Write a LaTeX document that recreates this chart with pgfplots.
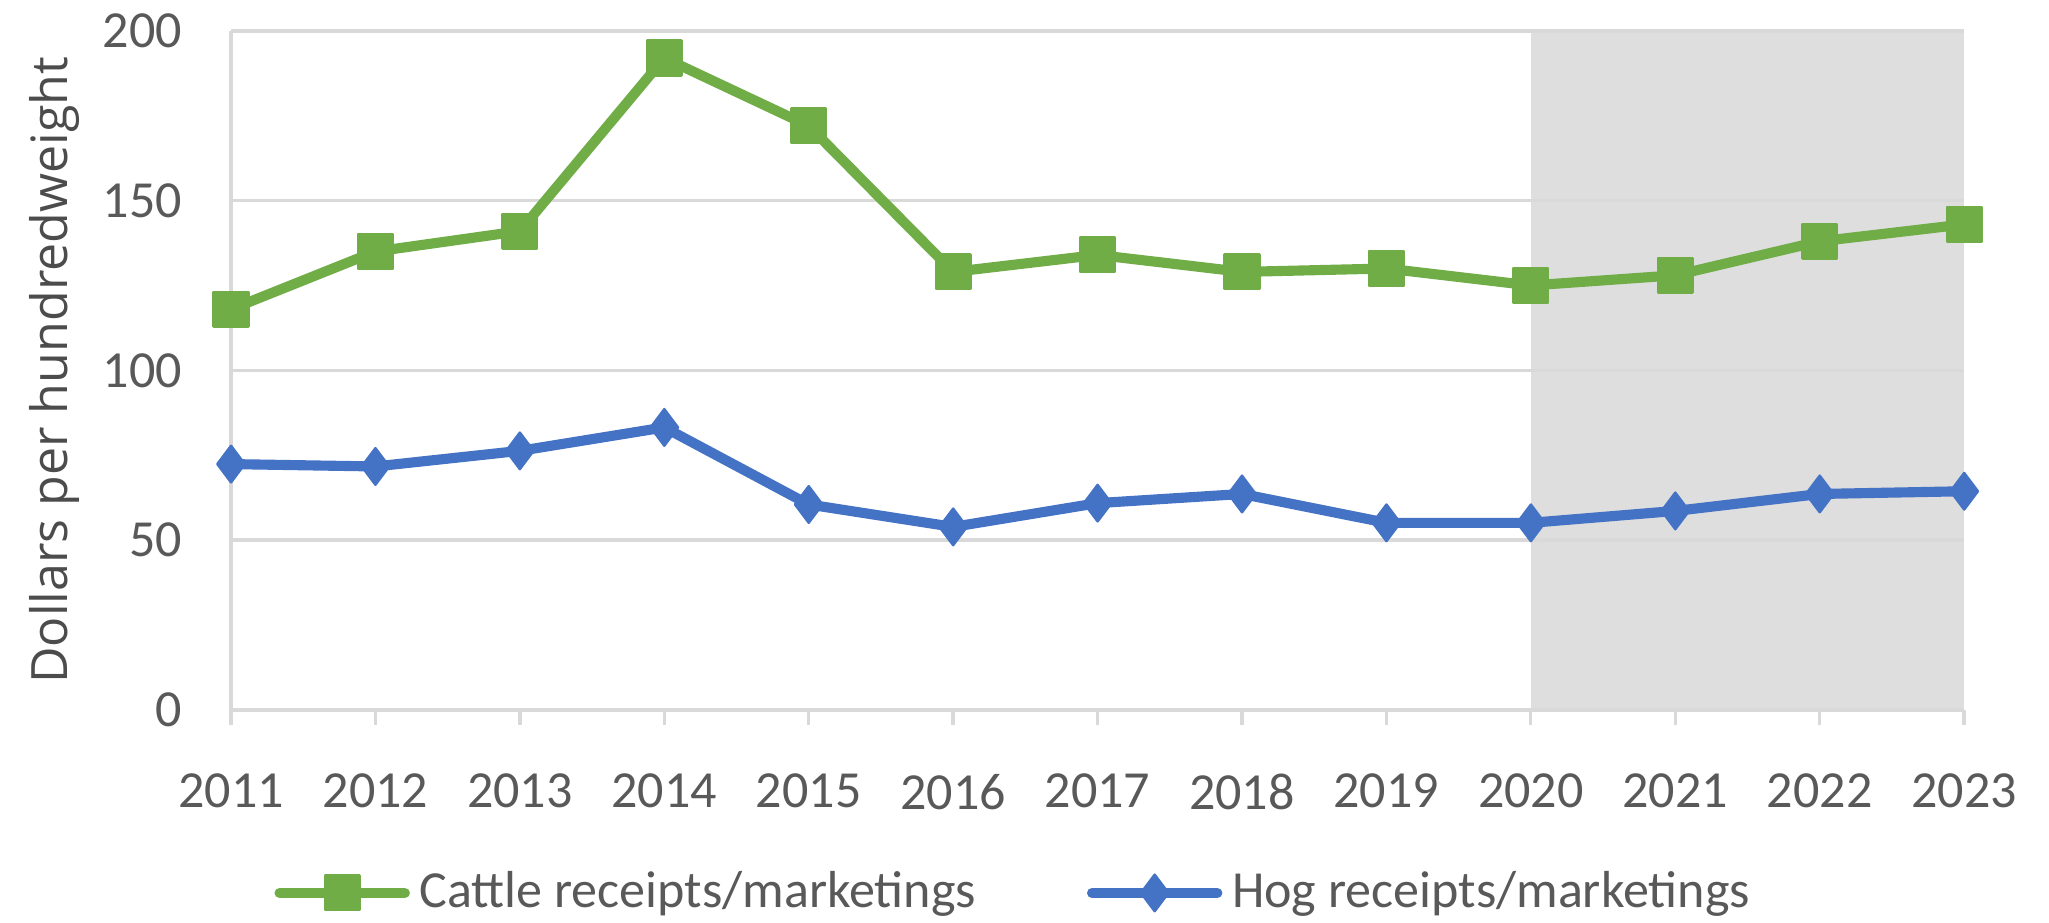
\documentclass[border=0pt]{standalone}
\usepackage{pgfplots}
\pgfplotsset{compat=1.18}
\usepackage{fontspec}
\setmainfont{Carlito}
\newfontfamily\labfont{Open Sans}
\definecolor{cattle}{HTML}{70AD47}
\definecolor{hog}{HTML}{4472C4}
\definecolor{gridgray}{HTML}{D9D9D9}
\definecolor{shade}{HTML}{DEDEDE}
\definecolor{txt}{HTML}{595959}

\begin{document}
\begin{tikzpicture}
\fontsize{10.8}{13}\selectfont
\begin{axis}[
    at={(0,0)}, anchor=south west,
    scale only axis,
    width=359.6pt, height=140.9pt,
    set layers,
    clip=false,
    xmin=2011, xmax=2023,
    ymin=0, ymax=200,
    xtick={2011,...,2023},
    ytick={0,50,...,200},
    axis lines*=left,
    axis line style={draw=gridgray, line width=0.7pt},
    ymajorgrids,
    grid style={draw=gridgray, line width=0.7pt},
    xtick align=outside,
    major tick length=3.1pt,
    xtick style={draw=gridgray, line width=0.7pt},
    ytick style={draw=none},
    /pgf/number format/1000 sep={},
    /pgf/number format/assume math mode=true,
    ticklabel style={text=txt, font=\fontsize{10.8}{13}\selectfont},
    xticklabel style={anchor=north, inner sep=0pt, yshift=-10pt},
    yticklabel style={anchor=east, inner sep=0pt, xshift=-10pt},
    ylabel={Dollars per hundredweight},
    ylabel style={at={(axis description cs:-0.1016,0.5)}, anchor=center,
        text=txt!85!black, font=\labfont\fontsize{10.4}{12}\selectfont},
    legend style={at={(0.4535,-0.2695)}, anchor=center, draw=none,
        fill=none, legend columns=2, text=txt,
        font=\fontsize{10.8}{13}\selectfont,
        /tikz/every even column/.append style={column sep=21pt}},
    legend cell align=left,
    legend image code/.code={
        \draw[#1, mark repeat=2, mark phase=2]
            plot coordinates {(0pt,0pt) (13pt,0pt) (26pt,0pt)};
    },
]
% projection period shading
\addplot[on layer=axis background, fill=shade, draw=none, forget plot]
    coordinates {(2020,0) (2020,200) (2023,200) (2023,0)} -- cycle;

\addplot[cattle, line width=2.1pt, line join=round, line cap=round,
    mark=square*, mark size=3.6pt, mark options={solid, line width=0.5pt}]
coordinates {
(2011,118) (2012,135) (2013,141) (2014,192) (2015,172) (2016,129)
(2017,134) (2018,129) (2019,130) (2020,125) (2021,128) (2022,138)
(2023,143)
};
\addlegendentry{Cattle receipts/marketings}

\addplot[hog, line width=2.1pt, line join=round, line cap=round,
    mark=diamond*, mark size=3.8pt, mark options={solid, line width=0.5pt}]
coordinates {
(2011,72.4) (2012,71.7) (2013,76.3) (2014,83.2) (2015,60.5) (2016,53.9)
(2017,60.9) (2018,63.6) (2019,55.1) (2020,55.1) (2021,58.6) (2022,63.6)
(2023,64.4)
};
\addlegendentry{Hog receipts/marketings}
\end{axis}
% page size: 2049 x 923 px at 0.2075 pt/px, axis box at (231,31)-(1964,710)
\pgfresetboundingbox
\path[use as bounding box] (-47.93pt,-44.2pt) rectangle (377.2pt,147.3pt);
\end{tikzpicture}
\end{document}
